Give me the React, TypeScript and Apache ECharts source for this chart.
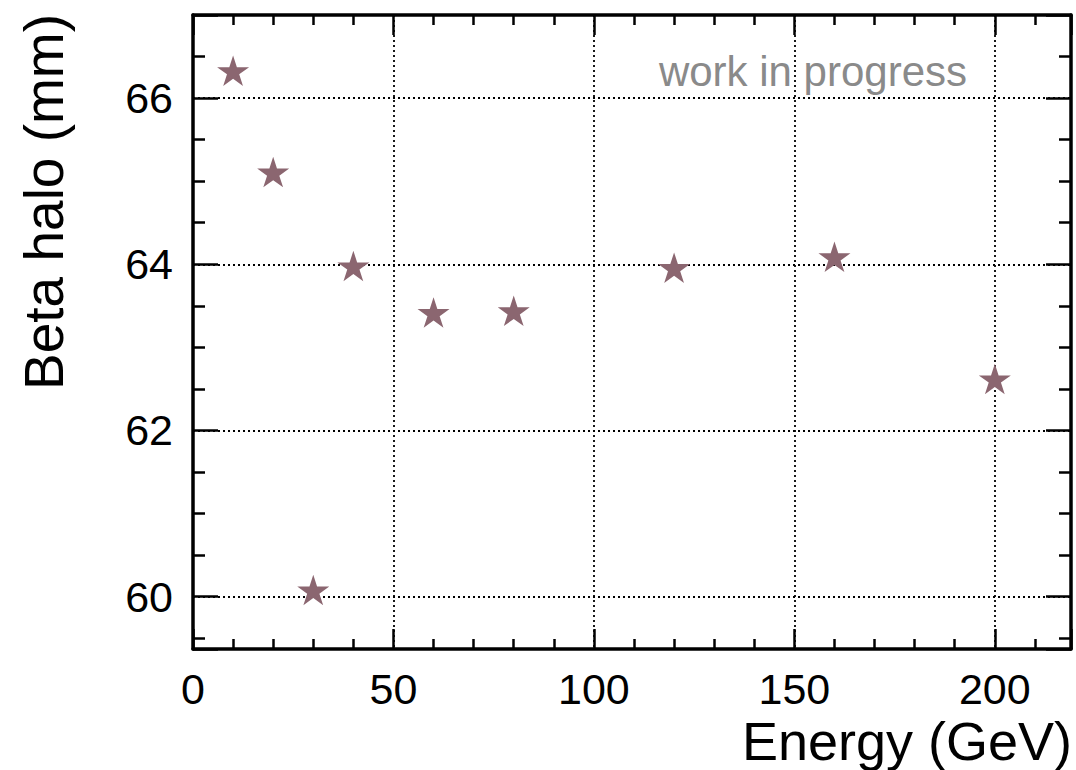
import React, { useEffect, useRef } from "react";
import * as echarts from "echarts";

const energies = [10, 20, 30, 40, 60, 80, 120, 160, 200];
const betaHalo = [66.31, 65.09, 60.06, 63.96, 63.4, 63.42, 63.94, 64.07, 62.6];
const xTickLabels = [0, 50, 100, 150, 200];
const yTickLabels = [60, 62, 64, 66];
const xRange = [0, 219];
const yRange = [59.37, 67];
const xTitle = "Energy (GeV)";
const yTitle = "Beta halo (mm)";
const watermark = "work in progress";

const FONT = "'Liberation Sans', Arial, Helvetica, sans-serif";
const STAR =
  "path://M0,-1000L225,-309L951,-309L363,118L588,809L0,382L-588,809L-363,118L-951,-309L-225,-309Z";
const STAR_COLOR = "#8b6670";

export default function App() {
  const ref = useRef<HTMLDivElement>(null);

  useEffect(() => {
    if (!ref.current) return;
    const chart = echarts.init(ref.current, null, { renderer: "svg" });

    const axisLineStyle = { color: "#000", width: 3.5 };
    const tickStyle = { color: "#000", width: 2.5 };
    const gridLine = { show: true, lineStyle: { color: "#000", width: 1.8, type: [2, 3] } };

    const xBase = (pos: string, main: boolean) => ({
      type: "value",
      position: pos,
      min: xRange[0],
      max: xRange[1],
      interval: 50,
      axisLine: { show: true, onZero: false, lineStyle: axisLineStyle },
      axisTick: { show: true, inside: true, length: 20, lineStyle: tickStyle },
      minorTick: { show: true, splitNumber: 5, length: 10, lineStyle: tickStyle },
      axisLabel: {
        show: main,
        margin: 18,
        fontSize: 43,
        fontFamily: FONT,
        color: "#000",
        showMaxLabel: false,
        formatter: (v: number) => (xTickLabels.includes(v) ? String(v) : ""),
      },
      splitLine: main ? gridLine : { show: false },
    });

    const yBase = (pos: string, main: boolean) => ({
      type: "value",
      position: pos,
      min: yRange[0],
      max: yRange[1],
      splitNumber: 4,
      axisLine: { show: true, onZero: false, lineStyle: axisLineStyle },
      axisTick: { show: true, inside: true, length: 25, lineStyle: tickStyle },
      minorTick: { show: true, splitNumber: 4, length: 12, lineStyle: tickStyle },
      axisLabel: {
        show: main,
        margin: 20,
        fontSize: 43,
        fontFamily: FONT,
        color: "#000",
        showMinLabel: false,
        showMaxLabel: false,
        formatter: (v: number) => (yTickLabels.includes(v) ? String(v) : ""),
      },
      splitLine: main ? gridLine : { show: false },
    });

    chart.setOption({
      animation: false,
      backgroundColor: "#fff",
      grid: {
        left: 193,
        right: 5,
        top: 15,
        bottom: 121,
        containLabel: false,
        outerBoundsMode: "none",
      },
      xAxis: [xBase("bottom", true), xBase("top", false)],
      yAxis: [yBase("left", true), yBase("right", false)],
      series: [
        {
          type: "scatter",
          xAxisIndex: 0,
          yAxisIndex: 0,
          data: energies.map((e, i) => [e, betaHalo[i]]),
          symbol: STAR,
          symbolSize: [32, 30.5],
          symbolOffset: [0, -1.6],
          itemStyle: { color: STAR_COLOR, opacity: 1 },
          z: 10,
        },
      ],
      graphic: [
        {
          type: "text",
          x: 1072,
          y: 741,
          style: {
            text: xTitle,
            fontSize: 54,
            fontFamily: FONT,
            fill: "#000",
            align: "right",
            textAlign: "right",
            verticalAlign: "middle",
            textVerticalAlign: "middle",
          },
        },
        {
          type: "text",
          x: 44,
          y: 14,
          rotation: Math.PI / 2,
          style: {
            text: yTitle,
            fontSize: 55,
            fontFamily: FONT,
            fill: "#000",
            align: "right",
            textAlign: "right",
            verticalAlign: "middle",
            textVerticalAlign: "middle",
          },
        },
        {
          type: "text",
          x: 967,
          y: 71,
          style: {
            text: watermark,
            fontSize: 42,
            fontFamily: FONT,
            fill: "#8a8a8a",
            align: "right",
            textAlign: "right",
            verticalAlign: "middle",
            textVerticalAlign: "middle",
          },
        },
      ],
    });

    return () => chart.dispose();
  }, []);

  return (
    <div
      ref={ref}
      style={{ position: "fixed", left: 0, top: 0, width: 1076, height: 770, background: "#fff" }}
    />
  );
}
